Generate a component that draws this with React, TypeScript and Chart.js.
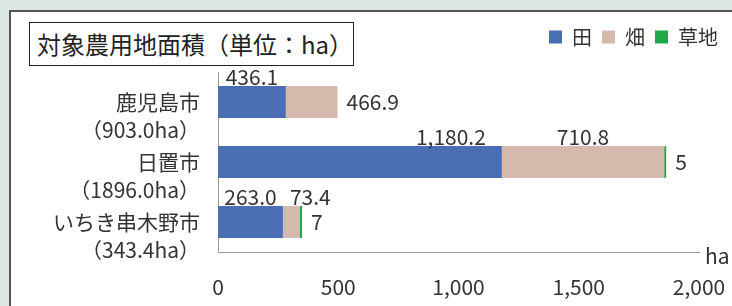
import React, { useEffect, useRef } from "react";
import { Chart, registerables } from "chart.js";

Chart.register(...registerables);

// ---- data ----
const categories = ["鹿児島市", "日置市", "いちき串木野市"];
const categoryTotals = ["903.0", "1896.0", "343.4"];
const seriesNames = ["田", "畑", "草地"];
// bar lengths as drawn in the reference
const paddyValues = [282, 1180.2, 270];
const uplandValues = [215, 675, 71];
const grassValues: (number | null)[] = [null, 5, 7];
// printed data labels
const paddyLabels = ["436.1", "1,180.2", "263.0"];
const uplandLabels = ["466.9", "710.8", "73.4"];
const grassLabels = ["", "5", "7"];
const xTickValues = [0, 500, 1000, 1500, 2000];
const axisUnit = "ha";
const titleText = "対象農用地面積（単位：ha）";

// ---- styling ----
const FONT = "'Noto Sans CJK JP', 'Noto Sans', sans-serif";
const TEXT = "#333333";
const BLUE = "#4a6db4";
const PINK = "#d5b9ad";
const GREEN = "#1fa84a";
const AXIS = "#9a9a9a";

const allLabels = [paddyLabels, uplandLabels, grassLabels];
const labelPlacement = [
  ["top-center", "top-end", "top-center"],
  ["right", "top-center", "top-start"],
  ["none", "right", "right"],
];

const barLabelPlugin = {
  id: "barLabels",
  afterDatasetsDraw(chart: any) {
    const ctx = chart.ctx;
    ctx.save();
    ctx.font = `21px ${FONT}`;
    ctx.fillStyle = TEXT;
    chart.data.datasets.forEach((_ds: any, di: number) => {
      const meta = chart.getDatasetMeta(di);
      meta.data.forEach((el: any, i: number) => {
        const text = allLabels[di][i];
        const mode = labelPlacement[di][i];
        if (!text || mode === "none") return;
        const { x, y, base, height } = el.getProps(["x", "y", "base", "height"], true);
        const start = Math.min(x, base);
        const end = Math.max(x, base);
        const top = y - height / 2;
        let tx = 0;
        let ty = 0;
        let align: CanvasTextAlign = "center";
        let baseline: CanvasTextBaseline = "alphabetic";
        if (mode === "top-center") {
          tx = (start + end) / 2;
          ty = top - 1;
          align = "center";
        } else if (mode === "top-end") {
          tx = end - 16;
          ty = top - 1;
          align = "right";
        } else if (mode === "top-start") {
          tx = start + 7;
          ty = top - 1;
          align = "left";
        } else if (mode === "right") {
          tx = end + 9;
          ty = y;
          align = "left";
          baseline = "middle";
        }
        ctx.textAlign = align;
        ctx.textBaseline = baseline;
        ctx.fillText(text, tx, ty);
      });
    });
    ctx.restore();
  },
};

const unitPlugin = {
  id: "axisUnit",
  afterDraw(chart: any) {
    const xs = chart.scales.x;
    const ctx = chart.ctx;
    ctx.save();
    ctx.font = `21px ${FONT}`;
    ctx.fillStyle = TEXT;
    ctx.textAlign = "left";
    ctx.textBaseline = "middle";
    ctx.fillText(axisUnit, xs.right + 6, xs.top + 4);
    ctx.restore();
  },
};

export default function App() {
  const canvasRef = useRef<HTMLCanvasElement | null>(null);

  useEffect(() => {
    if (!canvasRef.current) return;
    const chart = new Chart(canvasRef.current, {
      type: "bar",
      data: {
        labels: categories.map((c, i) => [c, `（${categoryTotals[i]}ha）`]),
        datasets: [
          { label: seriesNames[0], data: paddyValues, backgroundColor: BLUE, borderWidth: 0, xAxisID: "x", yAxisID: "y" },
          { label: seriesNames[1], data: uplandValues, backgroundColor: PINK, borderWidth: 0, xAxisID: "x", yAxisID: "y" },
          { label: seriesNames[2], data: grassValues as any, backgroundColor: GREEN, borderWidth: 0, minBarLength: 2, xAxisID: "x", yAxisID: "y" },
        ],
      },
      options: {
        indexAxis: "y",
        responsive: false,
        animation: false,
        devicePixelRatio: 1,
        datasets: { bar: { categoryPercentage: 0.53, barPercentage: 1 } },
        layout: { padding: { top: 5, right: 4, bottom: 0, left: 0 } },
        plugins: {
          tooltip: { enabled: false },
          title: { display: false },
          legend: {
            position: "top",
            align: "end",
            labels: {
              boxWidth: 13,
              boxHeight: 13,
              padding: 10,
              color: TEXT,
              font: { size: 20, family: FONT },
            },
          },
        },
        scales: {
          x: {
            type: "linear",
            position: "bottom",
            stacked: true,
            min: xTickValues[0],
            max: xTickValues[xTickValues.length - 1],
            afterBuildTicks: (s: any) => {
              s.ticks = xTickValues.map((v) => ({ value: v }));
            },
            ticks: {
              color: TEXT,
              font: { size: 21, family: FONT },
              padding: 0,
              maxRotation: 0,
              callback: (v: any) => Number(v).toLocaleString("en-US"),
            },
            grid: { display: false, drawTicks: true, tickLength: 22 },
            border: { display: true, color: AXIS, width: 1 },
            afterFit: (s: any) => {
              s.height = 54;
            },
          },
          y: {
            type: "category",
            position: "left",
            stacked: true,
            ticks: {
              color: TEXT,
              font: { size: 21, family: FONT, lineHeight: 28 / 21 },
              padding: 18,
              labelOffset: 14,
            },
            grid: { display: false, drawTicks: false },
            border: { display: true, color: AXIS, width: 1 },
            afterFit: (s: any) => {
              s.width = 207;
            },
          },
          x2: {
            type: "linear",
            position: "top",
            display: true,
            grid: { display: false, drawTicks: false },
            border: { display: false },
            ticks: { display: false },
            afterFit: (s: any) => {
              s.height = 15;
            },
          },
          y2: {
            type: "linear",
            position: "right",
            display: true,
            grid: { display: false, drawTicks: false },
            border: { display: false },
            ticks: { display: false },
            afterFit: (s: any) => {
              s.width = 29;
            },
          },
        },
      } as any,
      plugins: [barLabelPlugin, unitPlugin],
    });
    return () => chart.destroy();
  }, []);

  return (
    <div
      style={{
        position: "absolute",
        left: 0,
        top: 0,
        width: 732,
        height: 306,
        overflow: "hidden",
        background: "#dce7e2",
        fontFamily: FONT,
      }}
    >
      <div
        style={{
          position: "absolute",
          left: 9,
          top: 10,
          width: 800,
          height: 400,
          background: "#ffffff",
          border: "2px solid #555555",
        }}
      />
      <div style={{ position: "absolute", left: 11, top: 12, width: 721, height: 294 }}>
        <canvas ref={canvasRef} width={721} height={294} style={{ display: "block", width: 721, height: 294 }} />
      </div>
      <div
        style={{
          position: "absolute",
          left: 29,
          top: 22,
          width: 325,
          height: 44,
          boxSizing: "border-box",
          border: "1px solid #222222",
          background: "#ffffff",
          color: "#222222",
          fontSize: 24,
          lineHeight: "42px",
          paddingLeft: 7,
          whiteSpace: "nowrap",
        }}
      >
        {titleText}
      </div>
    </div>
  );
}
